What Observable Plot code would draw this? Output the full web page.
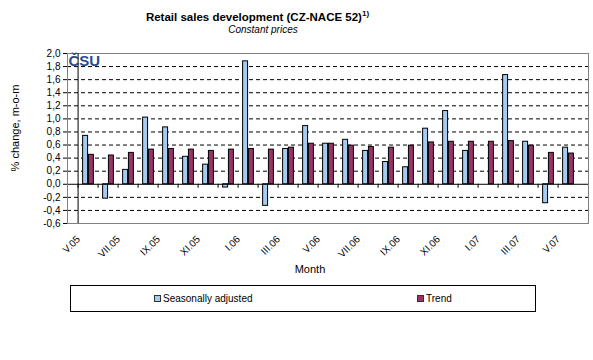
<!DOCTYPE html>
<html><head><meta charset="utf-8">
<script src="https://cdn.jsdelivr.net/npm/d3@7"></script>
<script src="https://cdn.jsdelivr.net/npm/@observablehq/plot@0.6"></script>
<style>
body{margin:0;background:#fff;}
#wrap{position:relative;width:593px;height:360px;font-family:"Liberation Sans",Arial,sans-serif;color:#000;overflow:hidden;background:#fff;}
#title{position:absolute;left:0;width:515px;top:11px;text-align:center;font-weight:bold;font-size:11.5px;line-height:12px;white-space:nowrap;}
#title .sup{font-size:8px;position:relative;top:-5px;}
#subtitle{position:absolute;left:0;width:526px;top:23.5px;text-align:center;font-style:italic;font-size:10px;line-height:12px;}
#chart{position:absolute;left:0;top:44px;}
#ylabel{position:absolute;left:15px;top:128px;transform:translate(-50%,-50%) rotate(-90deg);font-size:11px;white-space:nowrap;}
#xlabel{position:absolute;left:310px;top:263px;transform:translateX(-50%);font-size:11px;line-height:12px;}
#legend{position:absolute;left:70px;top:285px;width:466px;height:27px;box-sizing:border-box;border:1px solid #000;font-size:10px;}
.item{position:absolute;top:0;height:25px;display:flex;align-items:center;white-space:nowrap;}
.sw{display:inline-block;width:5px;height:5px;border:1px solid #333;margin-right:2px;}
</style></head><body>
<div id="wrap">
  <div id="title">Retail sales development (CZ-NACE 52)<span class="sup">1)</span></div>
  <div id="subtitle">Constant prices</div>
  <div id="chart"></div>
  <div id="ylabel">% change, m-o-m</div>
  <div id="xlabel">Month</div>
  <div id="legend"></div>
</div>
<script>
const months = ["V.05","VI.05","VII.05","VIII.05","IX.05","X.05","XI.05","XII.05",
  "I.06","II.06","III.06","IV.06","V.06","VI.06","VII.06","VIII.06","IX.06","X.06","XI.06","XII.06",
  "I.07","II.07","III.07","IV.07","V.07"];
const seasonallyAdjusted = [0.74,-0.22,0.22,1.02,0.87,0.42,0.30,-0.05,1.88,-0.33,0.54,0.89,0.62,0.68,0.51,0.34,0.26,0.85,1.12,0.51,0.00,1.67,0.65,-0.29,0.56];
const trend = [0.45,0.44,0.48,0.53,0.54,0.53,0.51,0.53,0.54,0.53,0.56,0.62,0.62,0.59,0.57,0.56,0.59,0.64,0.65,0.65,0.65,0.66,0.59,0.48,0.47];
const yTicks = [-0.6,-0.4,-0.2,0.0,0.2,0.4,0.6,0.8,1.0,1.2,1.4,1.6,1.8,2.0];
const xTickLabels = ["V.05","VII.05","IX.05","XI.05","I.06","III.06","V.06","VII.06","IX.06","XI.06","I.07","III.07","V.07"];
const seriesNames = ["Seasonally adjusted","Trend"];
const seriesColors = ["#a6caf0","#993366"];

const W = 593, H = 236, mL = 67, mR = 5, mT = 9, mB = 57;
const bw = (W - mL - mR) / months.length;
const barW = 5.8;
const saRows = months.map((m, i) => ({month: m, series: seriesNames[0], value: seasonallyAdjusted[i]}));
const trRows = months.map((m, i) => ({month: m, series: seriesNames[1], value: trend[i]}));
const fmt = d => d.toFixed(1).replace(".", ",");

const chart = Plot.plot({
  width: W, height: H,
  marginLeft: mL, marginRight: mR, marginTop: mT, marginBottom: mB,
  style: {fontFamily: "Liberation Sans, Arial, sans-serif", fontSize: "10px", background: "white", color: "black"},
  x: {domain: months, padding: 0},
  y: {domain: [-0.6, 2.0]},
  color: {domain: seriesNames, range: seriesColors},
  marks: [
    Plot.gridY(yTicks.filter(t => t > -0.6 && t < 2.0 && t !== 0), {stroke: "black", strokeOpacity: 1, strokeDasharray: "4,3"}),
    Plot.barY(saRows, {x: "month", y: "value", fill: "series", stroke: "black", strokeWidth: 1, insetLeft: bw / 2 - barW, insetRight: bw / 2}),
    Plot.barY(trRows, {x: "month", y: "value", fill: "series", stroke: "black", strokeWidth: 1, insetLeft: bw / 2, insetRight: bw / 2 - barW}),
    Plot.ruleY([0], {stroke: "black"}),
    Plot.ruleX(months, {x: d => d, y1: 0, y2: 0, insetBottom: -4, dx: -bw / 2, stroke: "black"}),
    Plot.frame({stroke: "#808080"}),
    Plot.ruleX([months[0]], {dx: -bw / 2, stroke: "black"}),
    Plot.axisY(yTicks, {tickSize: 4, tickPadding: 3, tickFormat: fmt, label: null}),
    Plot.axisX(xTickLabels, {tickRotate: -45, tickSize: 0, tickPadding: 14, dx: -10, label: null}),
    Plot.text(["ČSU"], {text: d => d, frameAnchor: "top-left", dx: 1, dy: 2, fill: "#2b4b8f", fontWeight: "bold", fontSize: 15, textAnchor: "start", lineAnchor: "top"})
  ]
});
document.getElementById("chart").appendChild(chart);

const legend = document.getElementById("legend");
const legendX = [83, 346];
seriesNames.forEach((name, i) => {
  const it = document.createElement("div");
  it.className = "item";
  it.style.left = legendX[i] + "px";
  const sw = document.createElement("span");
  sw.className = "sw";
  sw.style.background = seriesColors[i];
  it.appendChild(sw);
  it.appendChild(document.createTextNode(name));
  legend.appendChild(it);
});
</script>
</body></html>
